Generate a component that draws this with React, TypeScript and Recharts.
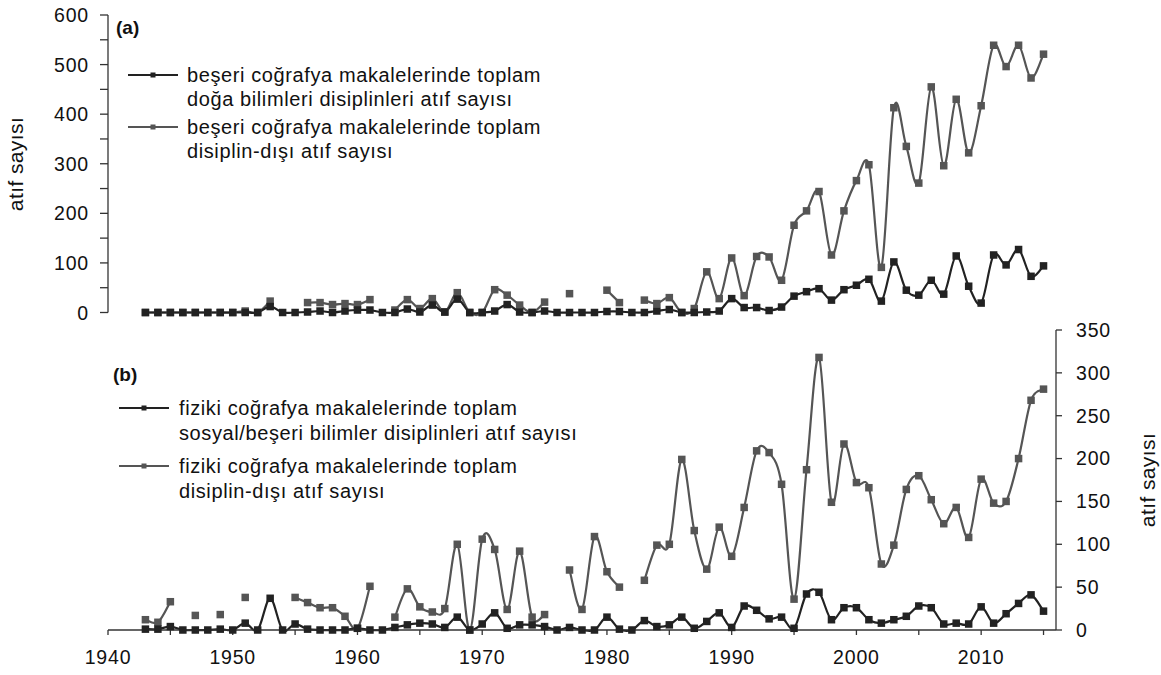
import React from "react";
import { LineChart, Line, XAxis, YAxis } from "recharts";

// publication years on the shared x axis
const years = [
  1943, 1944, 1945, 1946, 1947, 1948, 1949, 1950, 1951, 1952, 1953, 1954, 1955, 1956, 1957, 1958,
  1959, 1960, 1961, 1962, 1963, 1964, 1965, 1966, 1967, 1968, 1969, 1970, 1971, 1972, 1973, 1974,
  1975, 1976, 1977, 1978, 1979, 1980, 1981, 1982, 1983, 1984, 1985, 1986, 1987, 1988, 1989, 1990,
  1991, 1992, 1993, 1994, 1995, 1996, 1997, 1998, 1999, 2000, 2001, 2002, 2003, 2004, 2005, 2006,
  2007, 2008, 2009, 2010, 2011, 2012, 2013, 2014, 2015,
];

// (a) beşeri coğrafya -> doğa bilimleri atıfları
const humanToNatural = [
  0, 0, 0, 0, 0, 0, 0, 0, 0, 0, 12, 0, 0, 1, 3, 0,
  3, 5, 5, 0, 0, 7, 1, 15, 1, 27, 0, 0, 3, 16, 1, 0,
  3, 0, 0, 0, 0, 2, 2, 0, 0, 3, 6, 0, 0, 1, 3, 28,
  10, 10, 4, 11, 33, 42, 48, 25, 46, 55, 67, 23, 102, 45, 35, 65,
  37, 114, 53, 19, 116, 96, 127, 73, 94,
];

// (a) beşeri coğrafya -> disiplin-dışı atıflar
const humanOutside = [
  0, 0, 0, 0, 0, 0, 0, 0, 3, 0, 23, null, null, 20, 20, 16,
  18, 16, 26, null, 5, 26, 8, 28, 1, 40, 0, 0, 46, 35, 15, 0,
  21, null, 38, null, null, 45, 20, null, 25, 18, 30, 0, 8, 82, 28, 110,
  34, 113, 112, 65, 176, 205, 244, 116, 205, 266, 298, 91, 413, 335, 261, 455,
  296, 430, 322, 417, 539, 496, 539, 473, 521,
];

// (b) fiziki coğrafya -> sosyal/beşeri bilimler atıfları
const physicalToSocial = [
  1, 1, 4, 0, 0, 0, 1, 0, 8, 0, 37, 0, 7, 1, 0, 0,
  0, 2, 0, 0, 3, 6, 8, 7, 3, 15, 0, 7, 20, 2, 6, 6,
  4, 0, 3, 0, 0, 15, 1, 0, 11, 4, 6, 15, 2, 10, 20, 3,
  28, 23, 13, 15, 2, 42, 44, 12, 26, 26, 12, 8, 12, 16, 28, 26,
  7, 8, 7, 27, 8, 19, 31, 41, 22,
];

// (b) fiziki coğrafya -> disiplin-dışı atıflar
const physicalOutside = [
  12, 9, 33, null, 17, null, 18, null, 38, null, null, null, 38, 32, 26, 26,
  16, 2, 51, null, 15, 48, 27, 21, 25, 100, 0, 106, 94, 24, 92, 15,
  18, null, 70, 24, 109, 68, 50, null, 58, 99, 100, 199, 116, 71, 120, 86,
  143, 209, 207, 170, 36, 187, 318, 149, 217, 172, 166, 77, 99, 164, 180, 152,
  124, 143, 108, 176, 148, 150, 200, 268, 281,
];

const leftTicks = [0, 50, 100, 150, 200, 250, 300, 350, 400, 450, 500, 550, 600];
const rightTicks = [0, 50, 100, 150, 200, 250, 300, 350];
const xTicks = [1940, 1945, 1950, 1955, 1960, 1965, 1970, 1975, 1980, 1985, 1990, 1995, 2000, 2005, 2010, 2015];

const DARK = "#222222";
const GRAY = "#555555";
const AXIS = "#333333";
const TEXT = "#111111";
const FONT = '"Liberation Sans", Arial, sans-serif';

const topData = years.map((year, i) => ({ year, natural: humanToNatural[i], outside: humanOutside[i] }));
const bottomData = years.map((year, i) => ({ year, social: physicalToSocial[i], outside: physicalOutside[i] }));

// Excel-like smoothed line (Catmull-Rom through every point)
function smoothCurve(context: any) {
  let pts: number[][] = [];
  return {
    areaStart() {},
    areaEnd() {},
    lineStart() {
      pts = [];
    },
    lineEnd() {
      if (!pts.length) return;
      context.moveTo(pts[0][0], pts[0][1]);
      for (let i = 0; i < pts.length - 1; i++) {
        const p0 = pts[i - 1] || pts[i];
        const p1 = pts[i];
        const p2 = pts[i + 1];
        const p3 = pts[i + 2] || p2;
        context.bezierCurveTo(
          p1[0] + (p2[0] - p0[0]) / 6,
          p1[1] + (p2[1] - p0[1]) / 6,
          p2[0] - (p3[0] - p1[0]) / 6,
          p2[1] - (p3[1] - p1[1]) / 6,
          p2[0],
          p2[1]
        );
      }
    },
    point(x: number, y: number) {
      pts.push([+x, +y]);
    },
  };
}

const squareDot = (color: string) => (props: any) => {
  const { cx, cy, index, value } = props;
  if (cx == null || cy == null || value == null) return <g key={`e-${index}`} />;
  return <rect key={`s-${index}`} x={cx - 3.75} y={cy - 3.75} width={7.5} height={7.5} fill={color} />;
};

const tickText = { fill: TEXT, fontSize: 19.5, fontFamily: FONT, letterSpacing: 0.8 };

const LeftTick = (props: any) => {
  const { x, y, payload } = props;
  const v = payload.value;
  return (
    <g>
      <line x1={x - 8} x2={x} y1={y} y2={y} stroke={AXIS} strokeWidth={1.3} />
      {v % 100 === 0 && (
        <text x={x - 19} y={y} dy="0.36em" textAnchor="end" {...tickText}>
          {v}
        </text>
      )}
    </g>
  );
};

function AxisTitle({ x, y }: { x: number; y: number }) {
  return (
    <div
      style={{
        position: "absolute",
        left: x,
        top: y,
        transform: "translate(-50%, -50%) rotate(-90deg)",
        fontSize: 21,
        letterSpacing: 0.4,
        color: TEXT,
        whiteSpace: "nowrap",
        lineHeight: "24px",
      }}
    >
      atıf sayısı
    </div>
  );
}

function LegendEntry(props: { lineLeft: number; textLeft: number; y: number; color: string; lines: string[]; gap: number }) {
  const { lineLeft, textLeft, y, color, lines, gap } = props;
  return (
    <>
      <svg style={{ position: "absolute", left: lineLeft, top: y - 5 }} width={52} height={10}>
        <line x1={0} x2={50} y1={5} y2={5} stroke={color} strokeWidth={2} />
        <rect x={22.5} y={2.5} width={5} height={5} fill={color} />
      </svg>
      <div
        style={{
          position: "absolute",
          left: textLeft,
          top: y - gap / 2,
          fontSize: 20,
          lineHeight: `${gap}px`,
          letterSpacing: 0.6,
          color: TEXT,
          whiteSpace: "nowrap",
        }}
      >
        {lines.map((l) => (
          <div key={l}>{l}</div>
        ))}
      </div>
    </>
  );
}

export default function App() {
  return (
    <div style={{ position: "absolute", left: 0, top: 0, width: 1161, height: 675, background: "#fff", fontFamily: FONT }}>
      {/* panel (a) */}
      <div style={{ position: "absolute", left: 0, top: 0 }}>
        <LineChart width={1161} height={675} data={topData} margin={{ top: 15, right: 105, bottom: 362.5, left: 48 }}>
          <XAxis dataKey="year" type="number" domain={[1940, 2016]} hide />
          <YAxis
            domain={[0, 600]}
            ticks={leftTicks}
            interval={0}
            width={60}
            tickSize={0}
            tickMargin={0}
            tickLine={false}
            axisLine={{ stroke: AXIS, strokeWidth: 1.3 }}
            tick={<LeftTick />}
          />
          <Line
            dataKey="outside"
            type={smoothCurve as any}
            stroke={GRAY}
            strokeWidth={2.2}
            dot={squareDot(GRAY)}
            activeDot={false}
            isAnimationActive={false}
          />
          <Line
            dataKey="natural"
            type={smoothCurve as any}
            stroke={DARK}
            strokeWidth={2.2}
            dot={squareDot(DARK)}
            activeDot={false}
            isAnimationActive={false}
          />
        </LineChart>
      </div>

      {/* panel (b) */}
      <div style={{ position: "absolute", left: 0, top: 0 }}>
        <LineChart width={1161} height={675} data={bottomData} margin={{ top: 330, right: 45, bottom: 0, left: 108 }}>
          <XAxis
            dataKey="year"
            type="number"
            domain={[1940, 2016]}
            ticks={xTicks}
            interval={0}
            height={45}
            tickSize={5}
            tickMargin={15}
            tickFormatter={(v: number) => (v % 10 === 0 ? String(v) : "")}
            axisLine={{ stroke: AXIS, strokeWidth: 1.3 }}
            tickLine={{ stroke: AXIS, strokeWidth: 1.3 }}
            tick={tickText}
          />
          <YAxis
            orientation="right"
            domain={[0, 350]}
            ticks={rightTicks}
            interval={0}
            width={60}
            tickSize={6}
            tickMargin={14}
            axisLine={{ stroke: AXIS, strokeWidth: 1.3 }}
            tickLine={{ stroke: AXIS, strokeWidth: 1.3 }}
            tick={tickText}
          />
          <Line
            dataKey="outside"
            type={smoothCurve as any}
            stroke={GRAY}
            strokeWidth={2.2}
            dot={squareDot(GRAY)}
            activeDot={false}
            isAnimationActive={false}
          />
          <Line
            dataKey="social"
            type={smoothCurve as any}
            stroke={DARK}
            strokeWidth={2.2}
            dot={squareDot(DARK)}
            activeDot={false}
            isAnimationActive={false}
          />
        </LineChart>
      </div>

      <AxisTitle x={16} y={164} />
      <AxisTitle x={1148} y={480} />

      <div style={{ position: "absolute", left: 116, top: 17, fontSize: 19, fontWeight: "bold", color: TEXT }}>(a)</div>
      <LegendEntry
        lineLeft={128}
        textLeft={187}
        y={75}
        gap={24}
        color={DARK}
        lines={["beşeri coğrafya makalelerinde toplam", "doğa bilimleri disiplinleri atıf sayısı"]}
      />
      <LegendEntry
        lineLeft={128}
        textLeft={187}
        y={127}
        gap={24}
        color={GRAY}
        lines={["beşeri coğrafya makalelerinde toplam", "disiplin-dışı atıf sayısı"]}
      />

      <div style={{ position: "absolute", left: 113, top: 364, fontSize: 19, fontWeight: "bold", color: TEXT }}>(b)</div>
      <LegendEntry
        lineLeft={119}
        textLeft={179}
        y={408}
        gap={25}
        color={DARK}
        lines={["fiziki coğrafya makalelerinde toplam", "sosyal/beşeri bilimler disiplinleri atıf sayısı"]}
      />
      <LegendEntry
        lineLeft={119}
        textLeft={179}
        y={466}
        gap={25}
        color={GRAY}
        lines={["fiziki coğrafya makalelerinde toplam", "disiplin-dışı atıf sayısı"]}
      />
    </div>
  );
}
